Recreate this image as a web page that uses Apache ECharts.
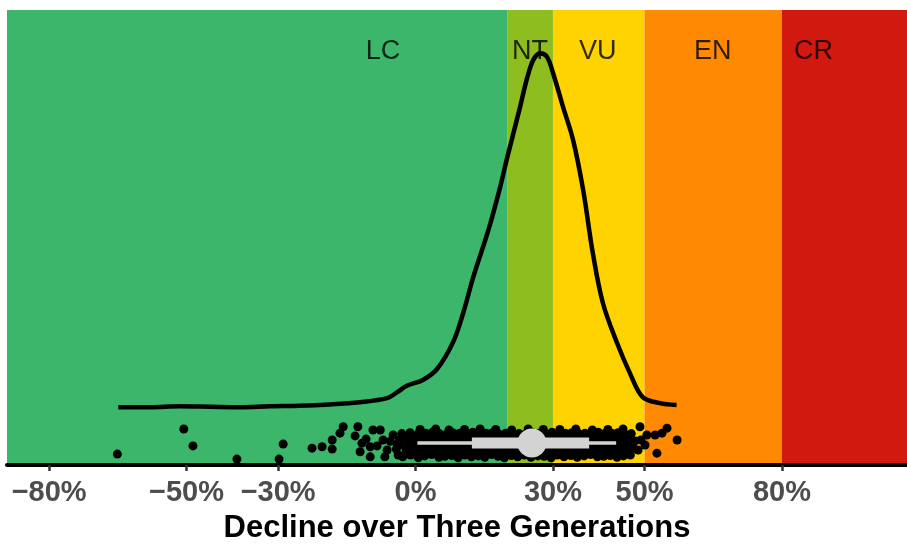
<!DOCTYPE html>
<html><head><meta charset="utf-8">
<script src="https://cdn.jsdelivr.net/npm/echarts@6/dist/echarts.min.js"></script>
<style>html,body{margin:0;padding:0;background:#fff}#c{width:907px;height:545px}</style>
</head><body><div id="c"></div><script>
const xMin = -89.2, xMax = 107.3;
const tickValues = [-80, -50, -30, 0, 30, 50, 80];
const categories = ['LC', 'NT', 'VU', 'EN', 'CR'];
const bandFrom = [-89.2, 20, 30, 50, 80];
const bandTo = [20, 30, 50, 80, 107.3];
const bandColors = ['#3BB66A', '#8DBD1E', '#FFD300', '#FF8900', '#D2190F'];
const bandLabelX = [-7.1, 25.0, 39.8, 64.9, 86.9];
const bandLabelY = 90.9;

const densityX = [-64.9,-58.0,-51.4,-44.9,-38.4,-31.8,-25.3,-18.7,-12.2,-6.2,-4.0,-1.9,1.6,4.7,8.2,10.4,12.6,15.9,18.4,20.0,22.8,24.3,25.7,27.2,28.7,30.0,32.2,34.4,36.6,38.7,40.9,44.0,46.8,49.6,53.3,57.0];
const densityY = [12.7,12.7,12.9,12.8,12.7,12.9,13.0,13.3,13.8,14.7,16.0,17.4,18.7,21.1,27.0,33.4,41.3,51.6,60.8,67.5,78.6,84.8,89.0,90.5,89.7,86.2,78.7,71.4,60.4,46.6,35.6,26.8,20.2,14.9,13.6,13.2];

const outlierPts = [[-65.1,2.4],[-50.6,7.9],[-48.6,4.2],[-39.0,1.3],[-29.8,1.3],[-28.9,4.6],
 [-22.6,3.7],[-20.4,4.0],[-18.2,3.5],[-18.2,5.5],[-16.5,7.0],[-15.8,8.4],[-13.2,6.4],[-12.6,8.4],
 [-11.7,4.8],[-12.1,2.9],[-9.9,1.8],[-9.3,7.7],[-9.9,4.0],[-7.7,7.7],[-7.1,5.5],[-6.2,3.3],
 [-4.9,6.6],[-4.0,4.4],[-3.8,2.2],[-10.8,5.7],[-8.4,4.2],[-6.7,1.8],
 [49.0,8.4],[50.5,6.6],[50.1,4.4],[52.3,6.6],[53.8,7.0],[54.9,8.1],[52.7,2.6],[57.1,5.5],[48.6,3.3],[49.2,5.5]];
const rowA_x = [-2.8,-1.1,0.6,2.0,3.5,5.1,6.4,7.9,9.3,10.8,12.2,13.7,15.1,16.6,18.0,19.4,20.9,22.3,23.8,25.2,26.7,28.1,29.6,31.0,32.4,33.9,35.3,36.8,38.2,39.7,41.1,42.5,44.0,45.4,46.9];
const rowA_y = [1.8,2.2,1.6,2.0,2.3,1.7,1.9,2.1,1.6,2.2,1.8,2.0,1.7,2.3,1.9,1.6,2.1,1.8,2.2,1.7,2.0,1.9,1.6,2.2,1.8,2.1,1.7,2.0,2.3,1.8,1.9,2.1,1.7,2.0,2.2];
const rowB_x = [-4.2,-2.0,-0.3,1.3,2.8,4.3,5.8,7.2,8.6,10.1,11.5,13.0,14.4,15.9,17.3,18.7,20.2,21.6,23.1,24.5,26.0,27.4,28.9,30.3,31.7,33.2,34.6,36.1,37.5,39.0,40.4,41.8,43.3,44.7,46.2,47.6];
const rowB_y = [3.5,3.8,3.3,3.7,3.4,3.9,3.6,3.2,3.7,3.5,3.8,3.4,3.6,3.3,3.9,3.5,3.7,3.4,3.6,3.8,3.3,3.5,3.7,3.4,3.9,3.6,3.2,3.7,3.5,3.8,3.4,3.6,3.3,3.7,3.5,3.6];
const rowC_x = [-5.5,-3.5,-1.6,0.1,1.7,3.2,4.7,6.1,7.6,9.0,10.4,11.9,13.3,14.8,16.2,17.7,19.1,20.5,22.0,23.4,24.9,26.3,27.8,29.2,30.6,32.1,33.5,35.0,36.4,37.9,39.3,40.7,42.2,43.6,45.1,46.5,48.0];
const rowC_y = [5.2,5.5,5.0,5.4,5.6,5.1,5.3,5.5,5.0,5.4,5.2,5.6,5.1,5.3,5.5,5.0,5.4,5.2,5.6,5.3,5.1,5.5,5.2,5.4,5.0,5.6,5.3,5.1,5.4,5.5,5.2,5.0,5.4,5.3,5.6,5.1,5.3];
const rowD_x = [-3.0,-1.2,0.5,2.2,3.7,5.2,6.7,8.1,9.6,11.0,12.5,13.9,15.4,16.8,18.2,19.7,21.1,22.6,24.0,25.5,26.9,28.3,29.8,31.2,32.7,34.1,35.6,37.0,38.4,39.9,41.3,42.8,44.2,45.7,47.1];
const rowD_y = [6.9,7.1,6.8,7.0,7.2,6.9,6.7,7.1,7.0,6.8,7.2,6.9,7.0,7.1,6.8,7.0,7.2,6.9,6.8,7.1,7.0,6.9,7.2,6.8,7.0,7.1,6.9,7.0,6.8,7.2,6.9,7.0,7.1,6.8,6.9];
const rowE_x = [1.0,4.4,7.3,10.7,14.1,17.5,21.0,24.6,27.9,31.5,35.0,38.6,42.0,45.3];
const rowE_y = [7.8,7.9,7.7,7.8,7.9,7.8,7.7,7.9,7.8,7.8,7.9,7.7,7.8,7.9];
const rowF_x = [-2.1,-0.4,1.2,2.9,4.5,6.0,7.5,9.0,10.5,12.0,13.5,15.0,16.4,17.9,19.3,20.8,22.2,23.7,25.1,26.6,28.0,29.5,30.9,32.4,33.8,35.3,36.7,38.2,39.6,41.1,42.5,44.0,45.4,46.8];
const rowF_y = [2.8,2.7,3.0,2.6,2.9,2.8,2.7,3.0,2.8,2.6,2.9,2.8,3.0,2.7,2.8,2.9,2.6,2.8,3.0,2.7,2.9,2.8,2.6,3.0,2.8,2.7,2.9,2.8,2.6,2.9,3.0,2.7,2.8,2.9];
const rowG_x = [-3.3,-1.5,0.2,1.9,3.5,5.0,6.5,8.0,9.5,11.0,12.4,13.9,15.3,16.8,18.3,19.7,21.2,22.6,24.1,25.6,27.0,28.5,29.9,31.4,32.8,34.3,35.7,37.2,38.6,40.1,41.5,43.0,44.4,45.9,47.3];
const rowG_y = [4.4,4.5,4.3,4.6,4.4,4.2,4.5,4.4,4.6,4.3,4.5,4.4,4.2,4.6,4.4,4.5,4.3,4.4,4.6,4.5,4.3,4.4,4.6,4.2,4.5,4.4,4.3,4.6,4.4,4.5,4.3,4.4,4.6,4.5,4.3];
const rowH_x = [-2.5,-0.8,0.9,2.6,4.1,5.6,7.1,8.6,10.0,11.5,13.0,14.4,15.9,17.3,18.8,20.2,21.7,23.2,24.6,26.1,27.5,29.0,30.4,31.9,33.3,34.8,36.2,37.7,39.2,40.6,42.1,43.5,45.0,46.4];
const rowH_y = [6.2,6.1,6.3,6.0,6.2,6.4,6.1,6.2,6.3,6.0,6.2,6.1,6.4,6.2,6.0,6.3,6.1,6.2,6.4,6.1,6.2,6.0,6.3,6.2,6.1,6.4,6.2,6.0,6.3,6.1,6.2,6.3,6.0,6.2];

const boxStats = [0.4, 12.3, 25.4, 37.9, 43.8]; // whisker low, q1, median, q3, whisker high
const boxY = 4.85;

function pairs(xs, ys){ return xs.map((x,i)=>[x, ys[i]]); }
const jitterPts = outlierPts.concat(pairs(rowA_x,rowA_y), pairs(rowB_x,rowB_y), pairs(rowC_x,rowC_y),
  pairs(rowD_x,rowD_y), pairs(rowE_x,rowE_y), pairs(rowF_x,rowF_y), pairs(rowG_x,rowG_y), pairs(rowH_x,rowH_y));

const FONT = 'Liberation Sans, Arial, Helvetica, sans-serif';
const chart = echarts.init(document.getElementById('c'), null, {renderer:'canvas'});
chart.setOption({
  animation: false,
  grid: {left: 7, right: 0, top: 10, bottom: 80, containLabel: false, outerBoundsMode: 'none'},
  xAxis: {
    type: 'value', min: xMin, max: xMax, z: 10,
    name: 'Decline over Three Generations', nameLocation: 'middle', nameGap: 48,
    nameTextStyle: {fontFamily: FONT, fontSize: 31, fontWeight: 'bold', color: '#000'},
    axisLine: {show: true, onZero: false, lineStyle: {color: '#000', width: 4}},
    axisTick: {show: true, customValues: tickValues, length: 6, lineStyle: {color: '#333', width: 2.5}},
    axisLabel: {customValues: tickValues, margin: 13, fontFamily: FONT, fontSize: 29, fontWeight: 'bold', color: '#4D4D4D',
      formatter: v => (v < 0 ? '\u2212' : '') + Math.abs(v) + '%'},
    splitLine: {show: false}
  },
  yAxis: {type: 'value', min: 0, max: 100, show: false, splitLine: {show: false}},
  series: [
    {
      type: 'scatter', data: [], silent: true, z: 1,
      markArea: {
        silent: true,
        data: categories.map((c, i) => [
          {xAxis: bandFrom[i], itemStyle: {color: bandColors[i], opacity: 1}},
          {xAxis: bandTo[i]}
        ])
      }
    },
    {
      type: 'scatter', z: 2, symbolSize: 0, silent: true,
      data: categories.map((c, i) => ({value: [bandLabelX[i], bandLabelY], name: c})),
      label: {show: true, position: 'inside', formatter: p => p.name, fontFamily: FONT, fontSize: 27, color: '#000'}
    },
    {
      type: 'line', z: 3, data: pairs(densityX, densityY), smooth: 0.35, symbol: 'none',
      lineStyle: {color: '#000', width: 4.5}
    },
    {
      type: 'scatter', z: 4, data: jitterPts, symbolSize: 9, itemStyle: {color: '#000', opacity: 1}
    },
    {
      type: 'line', z: 5, data: [[boxStats[0], boxY], [boxStats[4], boxY]], symbol: 'none',
      lineStyle: {color: '#D3D3D3', width: 3.5, cap: 'butt'}
    },
    {
      type: 'line', z: 6, data: [[boxStats[1], boxY], [boxStats[3], boxY]], symbol: 'none',
      lineStyle: {color: '#D3D3D3', width: 11, cap: 'butt'}
    },
    {
      type: 'scatter', z: 7, data: [[boxStats[2], boxY]], symbolSize: 29, itemStyle: {color: '#D3D3D3', opacity: 1}
    }
  ]
});
</script></body></html>
